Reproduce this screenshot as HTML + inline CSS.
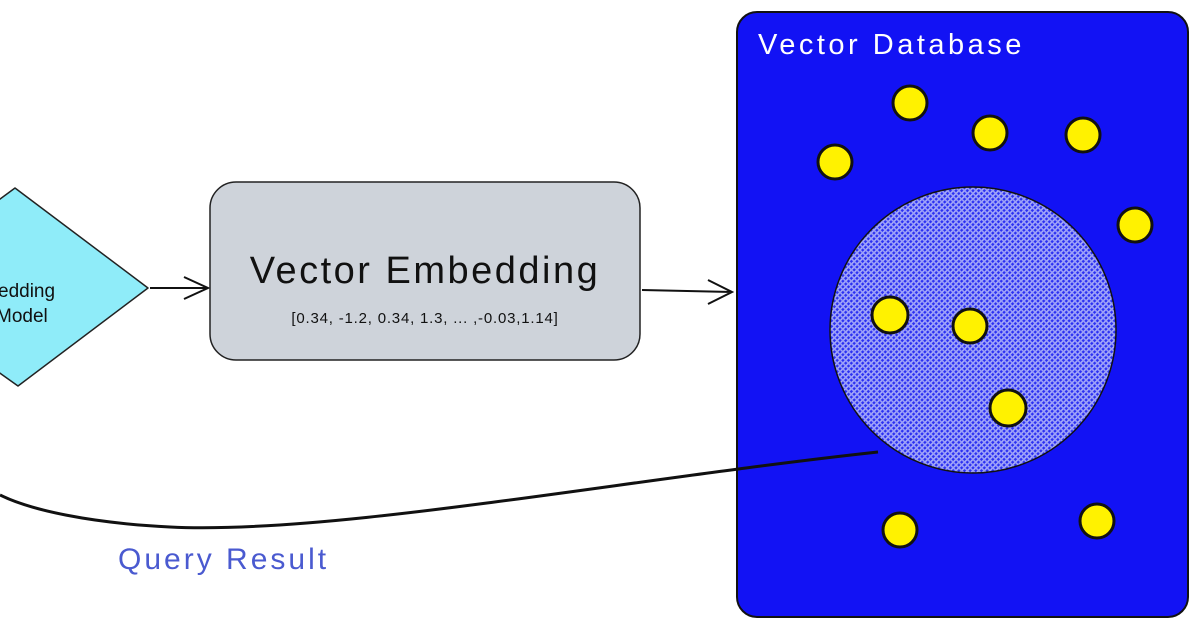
<!DOCTYPE html>
<html><head><meta charset="utf-8"><style>
html,body{margin:0;padding:0;background:#fff;width:1200px;height:630px;overflow:hidden}
svg{display:block}
text{font-family:"Liberation Sans",sans-serif}
</style></head><body>
<svg width="1200" height="630" viewBox="0 0 1200 630" xmlns="http://www.w3.org/2000/svg">
<defs>
<pattern id="h" width="4" height="4" patternUnits="userSpaceOnUse" patternTransform="rotate(45)">
<rect width="4" height="4" fill="#2a2ff2"/>
<rect width="1.6" height="4" fill="#a8acf8"/>
<rect width="4" height="1.6" fill="#9a9ef8"/>
</pattern>
</defs>
<path d="M15 188 L148 288 L18 386 L-120 288 Z" fill="#8fecf9" stroke="#222" stroke-width="1.5" stroke-linejoin="round"/>
<text x="-2" y="297" font-size="19" fill="#111">edding</text>
<text x="-4" y="322" font-size="19" fill="#111">Model</text>
<path d="M150 288 L208 288 M184 277 L208 288 L184 299" stroke="#111" stroke-width="2" fill="none"/>
<rect x="210" y="182" width="430" height="178" rx="26" fill="#ced3da" stroke="#222" stroke-width="1.5"/>
<text x="425" y="283" font-size="38" letter-spacing="2.5" text-anchor="middle" fill="#111">Vector Embedding</text>
<text x="425" y="323" font-size="15" letter-spacing="0.8" text-anchor="middle" fill="#111">[0.34, -1.2, 0.34, 1.3, ... ,-0.03,1.14]</text>
<path d="M642 290 L732 292 M708 280 L732 292 L708 304" stroke="#111" stroke-width="2" fill="none"/>
<rect x="737" y="12" width="451" height="605" rx="20" fill="#1212f4" stroke="#111" stroke-width="2"/>
<text x="758" y="54" font-size="29" letter-spacing="3.5" fill="#fff">Vector Database</text>
<circle cx="973" cy="330" r="143" fill="url(#h)" stroke="#111" stroke-width="1.5"/>
<g fill="#fff200" stroke="#111" stroke-width="3">
<circle cx="910" cy="103" r="17"/><circle cx="990" cy="133" r="17"/><circle cx="1083" cy="135" r="17"/>
<circle cx="835" cy="162" r="17"/><circle cx="1135" cy="225" r="17"/><circle cx="890" cy="315" r="18"/>
<circle cx="970" cy="326" r="17"/><circle cx="1008" cy="408" r="18"/><circle cx="900" cy="530" r="17"/>
<circle cx="1097" cy="521" r="17"/>
</g>
<path d="M878 452 C 620 480, 330 535, 170 527 C 90 523, 30 510, 0 495" stroke="#111" stroke-width="3" fill="none"/>
<text x="118" y="569" font-size="30" letter-spacing="3" fill="#4a5ad0">Query Result</text>
</svg>
</body></html>
